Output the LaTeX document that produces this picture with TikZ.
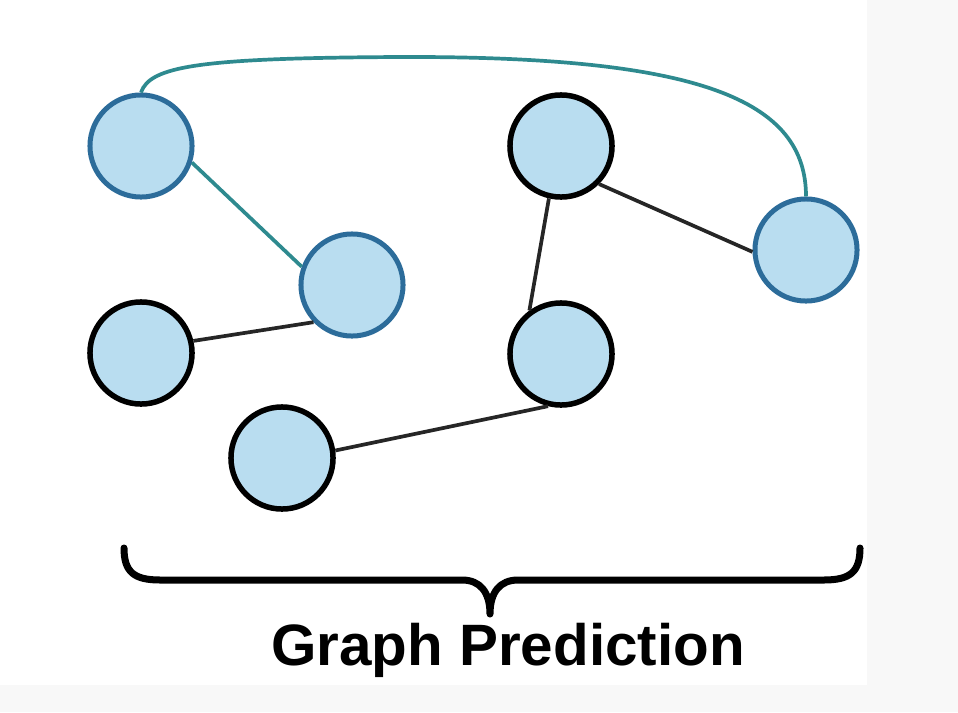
\documentclass[tikz,border=0pt]{standalone}
\usepackage{fontspec}
\setmainfont{Liberation Sans}
\definecolor{nodefill}{RGB}{185,221,240}
\definecolor{nodeblue}{RGB}{44,108,154}
\definecolor{edgeteal}{RGB}{46,138,143}
\definecolor{stripgray}{RGB}{248,248,248}
\tikzset{
	bluenode/.style={circle, draw=nodeblue, fill=nodefill, line width=0.05cm, minimum size=1.02cm, inner sep=0pt},
	blacknode/.style={circle, draw=black, fill=nodefill, line width=0.055cm, minimum size=1.02cm, inner sep=0pt},
	tealedge/.style={draw=edgeteal, line width=0.037cm},
	blackedge/.style={draw=black!85, line width=0.037cm}
}
\begin{document}
\begin{tikzpicture}[x=0.01cm, y=-0.01cm]
		\useasboundingbox (0, 0) rectangle (958, 712);
		\fill[stripgray] (867, 0) rectangle (958, 712);
		\fill[stripgray] (0, 685) rectangle (867, 712);

			\node[bluenode] (A) at(141, 146){};
			\node[bluenode] (B) at(352, 285){};
			\node[blacknode] (C) at(141, 353){};
			\node[blacknode] (D) at(561, 146){};
			\node[bluenode] (E) at(806, 250){};
			\node[blacknode] (F) at(561, 354){};
			\node[blacknode] (G) at(282, 458){};

			\coordinate (top) at(400, 57);

				\draw[tealedge] (A.-18) to (B.160);
				\draw[tealedge] (A.north) .. controls (150, 66) and (200, 58) .. (top)
					.. controls (700, 56) and (806, 100) .. (E.north);
				\draw[blackedge] (C.13) to (B.224);
				\draw[blackedge] (D.-103) to (F.126);
				\draw[blackedge] (D.-45) to (E.182);
				\draw[blackedge] (F.-104) to (G.8);

			\coordinate (tip) at(490, 614);
			\draw[line width=0.07cm, line cap=round, line join=round]
				(124, 548) .. controls (124, 572) and (134, 580) .. (160, 580) -- (462, 580)
				.. controls (480, 580) and (490, 592) .. (tip)
				.. controls (490, 592) and (500, 580) .. (518, 580) -- (824, 580)
				.. controls (850, 580) and (860, 572) .. (860, 548);

			\node[anchor=base, font=\fontsize{16.6}{18}\selectfont\bfseries] (label) at(508, 665){Graph Prediction};
\end{tikzpicture}
\end{document}
